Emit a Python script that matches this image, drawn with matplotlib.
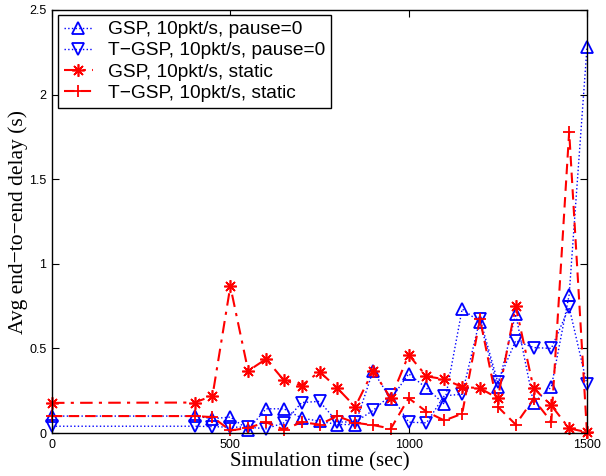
import matplotlib
matplotlib.use("Agg")
import matplotlib.pyplot as plt

time_sec = [0, 400, 450, 500, 550, 600, 650, 700, 750, 800, 850, 900,
            950, 1000, 1050, 1100, 1150, 1200, 1250, 1300, 1350, 1400, 1450, 1500]

gsp_pause0 = [0.10, 0.10, 0.085, 0.094, 0.02, 0.143, 0.143, 0.088, 0.07, 0.05, 0.05, 0.367,
              0.20, 0.35, 0.265, 0.17, 0.733, 0.655, 0.27, 0.703, 0.178, 0.272, 0.818, 2.28]
tgsp_pause0 = [0.04, 0.04, 0.038, 0.034, 0.035, 0.025, 0.06, 0.18, 0.187, 0.065, 0.065, 0.133,
               0.225, 0.064, 0.06, 0.22, 0.229, 0.675, 0.30, 0.545, 0.505, 0.50, 0.743, 0.287]
gsp_static = [0.178, 0.18, 0.22, 0.867, 0.367, 0.437, 0.312, 0.28, 0.363, 0.265, 0.155, 0.367,
              0.205, 0.462, 0.335, 0.318, 0.272, 0.265, 0.205, 0.752, 0.265, 0.163, 0.027, 0.005]
tgsp_static = [0.10, 0.10, 0.094, 0.015, 0.03, 0.064, 0.02, 0.064, 0.05, 0.10, 0.06, 0.047,
               0.026, 0.206, 0.126, 0.074, 0.114, 0.674, 0.155, 0.05, 0.20, 0.067, 1.78, 0.0]

labels = ["GSP, 10pkt/s, pause=0", "T\u2212GSP, 10pkt/s, pause=0",
          "GSP, 10pkt/s, static", "T\u2212GSP, 10pkt/s, static"]
xticks = [0, 500, 1000, 1500]
yticks = [0, 0.5, 1, 1.5, 2, 2.5]
ytick_labels = ["0", "0.5", "1", "1.5", "2", "2.5"]

plt.rcParams['font.family'] = ['Liberation Sans', 'DejaVu Sans']

fig = plt.figure(figsize=(6.06, 4.76), dpi=100)
ax = fig.add_axes([52/606, 1 - 433/476, 535/606, 423/476])

blue = (0, 0, 1)
red = (1, 0, 0)
asterisk = (8, 2, 0)

ax.plot(time_sec, gsp_pause0, linestyle=':', color=blue, lw=1.0, marker='^',
        markersize=8.5, markerfacecolor='none', markeredgecolor=blue, markeredgewidth=1.3,
        clip_on=False, label=labels[0])
ax.plot(time_sec, tgsp_pause0, linestyle=':', color=blue, lw=1.0, marker='v',
        markersize=8.5, markerfacecolor='none', markeredgecolor=blue, markeredgewidth=1.3,
        clip_on=False, label=labels[1])
ax.plot(time_sec, gsp_static, linestyle='-.', color=red, lw=1.5, marker=asterisk,
        markersize=9, markeredgecolor=red, markeredgewidth=1.2,
        clip_on=False, label=labels[2], dashes=(6, 3, 1.5, 3))
ax.plot(time_sec, tgsp_static, linestyle='--', color=red, lw=1.5, marker='+',
        markersize=9, markeredgecolor=red, markeredgewidth=1.3,
        clip_on=False, label=labels[3], dashes=(5, 3))

ax.set_xlim(0, 1500)
ax.set_ylim(0, 2.5)
ax.set_xticks(xticks)
ax.set_xticklabels([str(t) for t in xticks])
ax.set_yticks(yticks)
ax.set_yticklabels(ytick_labels)
ax.tick_params(direction='in', length=5, width=0.8, top=True, right=True,
               labelsize=9, colors='black', pad=4)
for sp in ax.spines.values():
    sp.set_linewidth(1.0)
    sp.set_zorder(5)

ax.set_xlabel("Simulation time (sec)", family=['Liberation Serif', 'DejaVu Serif'],
              fontsize=15, labelpad=1)
ax.set_ylabel("Avg end\u2212to\u2212end delay (s)", family=['Liberation Serif', 'DejaVu Serif'],
              fontsize=15.5, labelpad=1)

leg = ax.legend(loc='upper left', bbox_to_anchor=(0.011, 0.988), borderaxespad=0,
                fontsize=13.8, fancybox=False, framealpha=1, edgecolor='black',
                handlelength=1.55, handletextpad=0.75, labelspacing=0.2, borderpad=0.3)
leg.get_frame().set_linewidth(1.0)

fig.savefig("out.png", dpi=100)
